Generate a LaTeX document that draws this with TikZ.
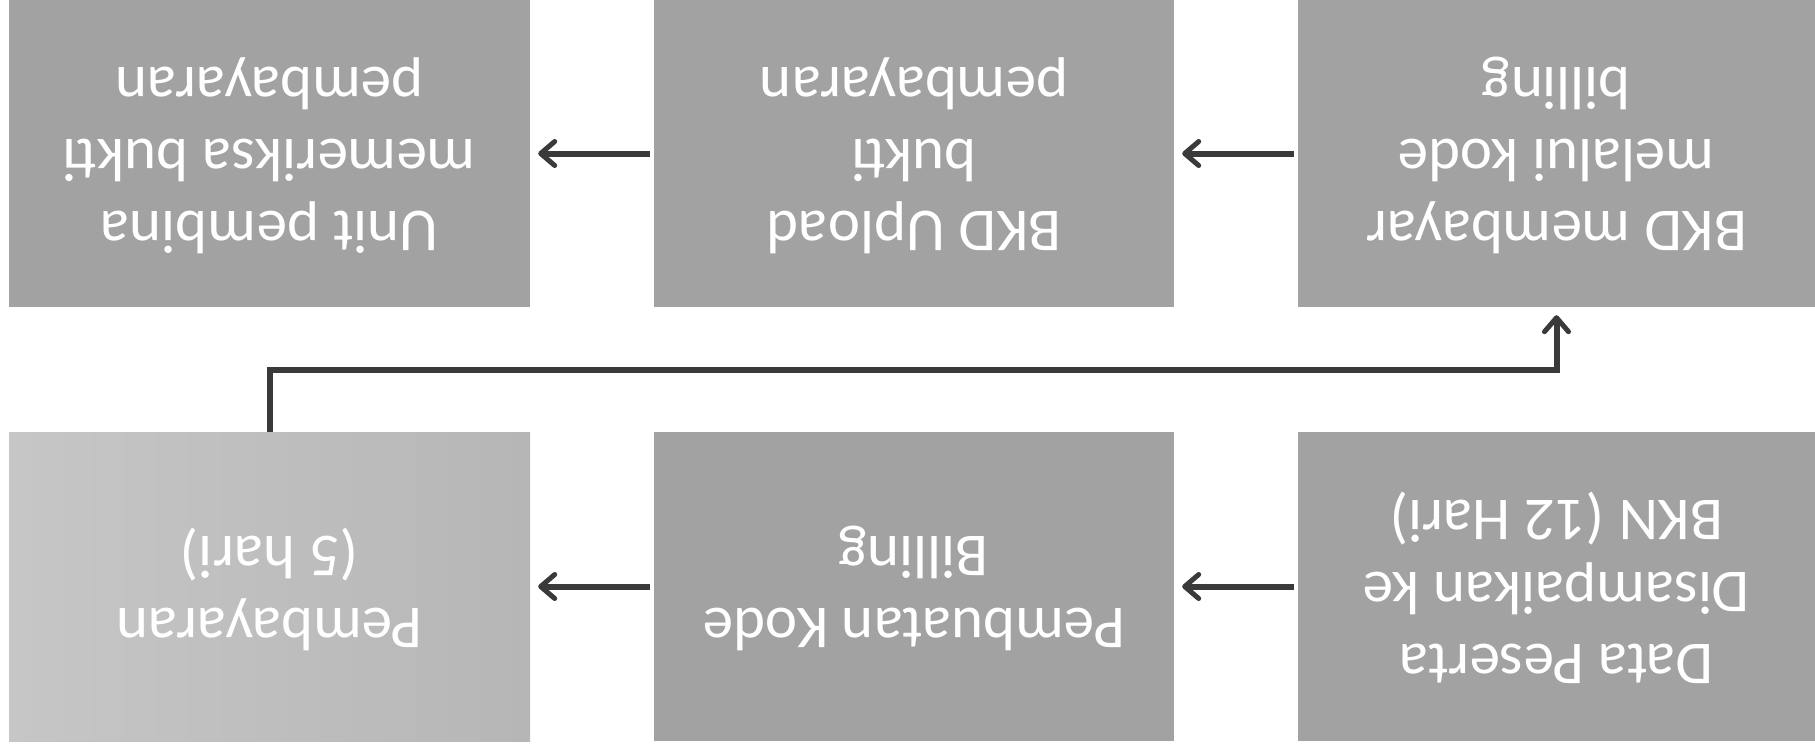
\documentclass[tikz,border=0pt]{standalone}
\usepackage{fontspec}
\setmainfont{Carlito}
\usetikzlibrary{arrows.meta}
\definecolor{boxgray}{HTML}{A2A2A2}
\definecolor{lightL}{HTML}{C6C6C6}
\definecolor{lightR}{HTML}{B6B6B6}
\definecolor{arrowgray}{HTML}{3A3A3A}
\newcommand{\fliptext}[1]{\rotatebox[origin=c]{180}{\begin{tabular}{@{}c@{}}#1\end{tabular}}}
\tikzset{
  stepbox/.style={rectangle, fill=boxgray, draw=none, text=white,
    font=\fontsize{61}{72}\selectfont, inner sep=0pt},
  flowarrow/.style={draw=arrowgray, line width=6pt,
    -{Straight Barb[length=14pt,width=24pt,line width=5pt,round]}}
}
\begin{document}
\begin{tikzpicture}[x=1pt,y=-1pt]
\useasboundingbox[fill=white] (0,0) rectangle (1815,748);
% top row
\node[stepbox, minimum width=521pt, minimum height=307pt] (t1) at (269.5,153.5)
  {\fliptext{Unit pembina\\memeriksa bukti\\pembayaran}};
\node[stepbox, minimum width=520pt, minimum height=307pt] (t2) at (914,153.5)
  {\fliptext{BKD Upload\\bukti\\pembayaran}};
\node[stepbox, minimum width=517pt, minimum height=307pt] (t3) at (1556.5,153.5)
  {\fliptext{BKD membayar\\melalui kode\\billing}};
% bottom row
\node[stepbox, left color=lightL, right color=lightR, minimum width=521pt, minimum height=309pt] (b1) at (269.5,586.5)
  {\fliptext{Pembayaran\\(5 hari)}};
\node[stepbox, minimum width=520pt, minimum height=309pt] (b2) at (914,586.5)
  {\fliptext{Pembuatan Kode\\Billing}};
\node[stepbox, minimum width=517pt, minimum height=309pt] (b3) at (1556.5,586.5)
  {\fliptext{Data Peserta\\Disampaikan ke\\BKN (12 Hari)}};
\coordinate (mid) at (0,370);
% arrows
\draw[flowarrow, shorten <=4pt, shorten >=8pt] (t2.west) -- (t1.east);
\draw[flowarrow, shorten <=4pt, shorten >=8pt] (t3.west) -- (t2.east);
\draw[flowarrow, shorten <=4pt, shorten >=8pt] (b3.west) -- (b2.east);
\draw[flowarrow, shorten <=4pt, shorten >=8pt] (b2.west) -- (b1.east);
\draw[flowarrow, shorten >=8pt] (b1.north) -- (b1.north |- mid) -| (t3.south);
\end{tikzpicture}
\end{document}
